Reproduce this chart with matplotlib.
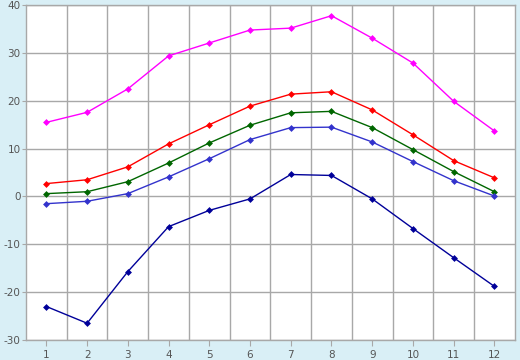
import matplotlib
matplotlib.use("Agg")
import matplotlib.pyplot as plt
from matplotlib.ticker import MultipleLocator

plt.rcParams["axes.unicode_minus"] = False

months = list(range(1, 13))
record_high = [15.5, 17.6, 22.5, 29.4, 32.1, 34.8, 35.2, 37.8, 33.1, 27.9, 19.9, 13.7]
mean_high = [2.7, 3.5, 6.2, 11.0, 15.0, 18.9, 21.4, 21.9, 18.1, 12.9, 7.5, 3.9]
mean_daily = [0.6, 1.0, 3.1, 7.0, 11.2, 14.9, 17.5, 17.8, 14.4, 9.8, 5.2, 1.0]
mean_low = [-1.5, -1.0, 0.6, 4.1, 7.9, 11.9, 14.4, 14.5, 11.4, 7.3, 3.3, 0.1]
record_low = [-23.0, -26.5, -15.7, -6.3, -2.9, -0.5, 4.6, 4.4, -0.5, -6.7, -12.8, -18.8]

series = [
    (record_high, "#ff00ff"),
    (mean_high, "#ff0000"),
    (mean_daily, "#006600"),
    (mean_low, "#3333cc"),
    (record_low, "#000099"),
]

fig = plt.figure(figsize=(5.2, 3.6), dpi=100, facecolor="#d9eff6")
ax = fig.add_axes([0.05, 0.0556, 0.94, 0.930])
ax.set_facecolor("white")

x = list(range(len(months)))
for vals, col in series:
    ax.plot(x, vals, color=col, linewidth=1.0, marker="D", markersize=3.5,
            markeredgewidth=0, zorder=3)

ax.set_xlim(-0.5, len(months) - 0.5)
ax.set_ylim(-30, 40)
ax.yaxis.set_major_locator(MultipleLocator(10))
ax.set_xticks(x)
ax.set_xticklabels([str(m) for m in months])
ax.set_xticks([i + 0.5 for i in x[:-1]], minor=True)

ax.grid(True, which="minor", axis="x", color="#a8a8a8", linewidth=1)
ax.grid(True, which="major", axis="y", color="#a8a8a8", linewidth=1)
ax.set_axisbelow(True)

for s in ax.spines.values():
    s.set_color("#a8a8a8")
    s.set_linewidth(1)

ax.tick_params(axis="x", which="major", length=4, color="#a8a8a8",
               labelsize=7.5, labelcolor="#555555", pad=3)
ax.tick_params(axis="x", which="minor", length=0)
ax.tick_params(axis="y", length=3, color="#a8a8a8",
               labelsize=7.5, labelcolor="#555555", pad=1)

fig.savefig("out.png", dpi=100, facecolor=fig.get_facecolor())
